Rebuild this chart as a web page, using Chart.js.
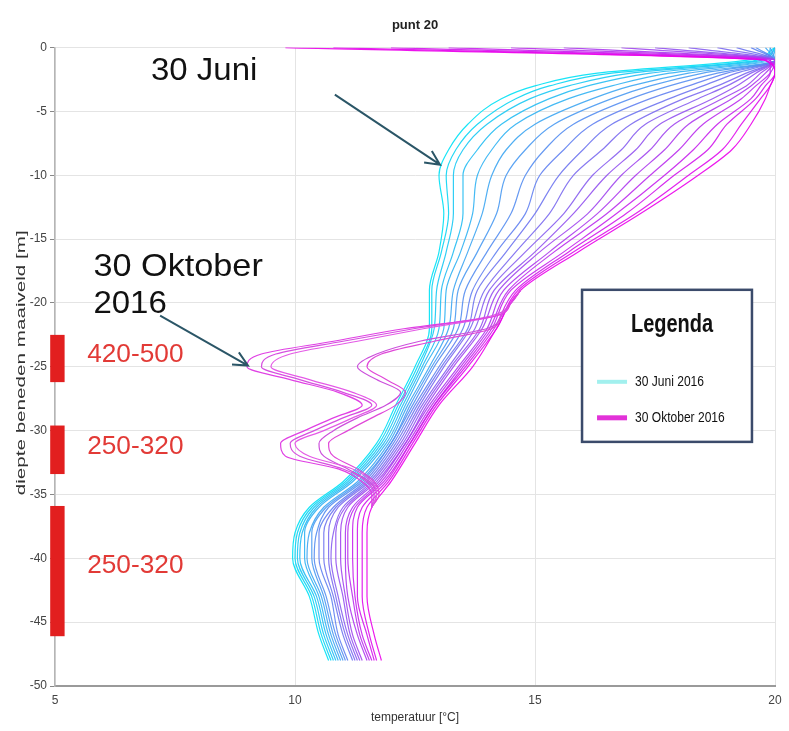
<!DOCTYPE html>
<html>
<head>
<meta charset="utf-8">
<script src="https://cdn.jsdelivr.net/npm/chart.js@4.4.1/dist/chart.umd.min.js"></script>
<style>
  html, body { margin: 0; padding: 0; background: #fff; }
</style>
</head>
<body>
<canvas id="myChart" width="789" height="731"></canvas>
<script>
// depth below ground level [m] for the main profiles
const depth = [0, -1, -2, -3, -4, -6, -8, -10, -13, -16, -19, -22, -25, -28, -31, -34, -36, -38, -40, -43, -46, -48];

// temperature profiles [°C], from 30 Juni 2016 (cyan) to 30 Oktober 2016 (magenta)
const t01 = [20, 19.4, 16.3, 15.0, 14.3, 13.6, 13.2, 13.0, 13.1, 13.0, 12.8, 12.8, 12.5, 12.1, 11.7, 11.0, 10.3, 10.0, 9.95, 10.3, 10.5, 10.7];
const t02 = [20, 19.6, 16.6, 15.3, 14.6, 13.8, 13.35, 13.15, 13.2, 13.05, 12.85, 12.85, 12.55, 12.15, 11.75, 11.05, 10.35, 10.05, 10.0, 10.35, 10.55, 10.75];
const t03 = [20, 19.7, 17.0, 15.7, 14.9, 14.0, 13.5, 13.3, 13.3, 13.15, 12.95, 12.9, 12.6, 12.2, 11.8, 11.1, 10.4, 10.1, 10.05, 10.4, 10.6, 10.8];
const t04 = [19.9, 19.8, 17.4, 16.1, 15.3, 14.3, 13.8, 13.5, 13.5, 13.3, 13.05, 13.0, 12.65, 12.25, 11.85, 11.15, 10.45, 10.15, 10.1, 10.45, 10.65, 10.85];
const t05 = [20, 19.9, 17.8, 16.6, 15.7, 14.6, 14.1, 13.8, 13.7, 13.45, 13.15, 13.1, 12.7, 12.3, 11.9, 11.2, 10.5, 10.2, 10.2, 10.5, 10.7, 10.9];
const t06 = [19.8, 20, 18.2, 17.0, 16.2, 15.0, 14.4, 14.1, 13.9, 13.6, 13.3, 13.2, 12.8, 12.35, 11.95, 11.3, 10.6, 10.3, 10.25, 10.55, 10.75, 10.95];
const t07 = [19.9, 20, 18.5, 17.4, 16.6, 15.4, 14.8, 14.4, 14.2, 13.8, 13.4, 13.3, 12.85, 12.4, 12.0, 11.35, 10.65, 10.35, 10.35, 10.6, 10.8, 11.0];
const t08 = [19.6, 20, 18.8, 17.8, 17.0, 15.8, 15.2, 14.8, 14.5, 14.0, 13.55, 13.4, 12.9, 12.45, 12.0, 11.4, 10.7, 10.45, 10.4, 10.65, 10.85, 11.05];
const t09 = [19.5, 20, 19.0, 18.2, 17.4, 16.2, 15.6, 15.1, 14.8, 14.2, 13.7, 13.5, 13.0, 12.5, 12.05, 11.45, 10.8, 10.5, 10.5, 10.75, 10.9, 11.1];
const t10 = [19.2, 20, 19.2, 18.5, 17.8, 16.6, 16.0, 15.5, 15.0, 14.4, 13.8, 13.6, 13.05, 12.55, 12.1, 11.5, 10.85, 10.6, 10.6, 10.8, 11.0, 11.2];
const t11 = [18.8, 20, 19.4, 18.8, 18.1, 17.0, 16.4, 15.8, 15.3, 14.6, 13.95, 13.65, 13.1, 12.6, 12.15, 11.55, 10.9, 10.7, 10.7, 10.85, 11.05, 11.25];
const t12 = [18.2, 20, 19.5, 19.0, 18.4, 17.3, 16.8, 16.2, 15.6, 14.8, 14.05, 13.75, 13.2, 12.65, 12.2, 11.6, 11.0, 10.8, 10.75, 10.9, 11.1, 11.3];
const t13 = [17.5, 20, 19.6, 19.2, 18.7, 17.6, 17.1, 16.5, 15.8, 15.0, 14.15, 13.85, 13.25, 12.7, 12.25, 11.65, 11.05, 10.85, 10.85, 11.0, 11.15, 11.35];
const t14 = [16.8, 20, 19.7, 19.4, 18.9, 17.9, 17.4, 16.8, 16.1, 15.1, 14.25, 13.9, 13.3, 12.75, 12.3, 11.7, 11.1, 10.95, 10.95, 11.05, 11.2, 11.4];
const t15 = [15.6, 20, 19.8, 19.5, 19.1, 18.2, 17.7, 17.1, 16.3, 15.3, 14.35, 14.0, 13.4, 12.8, 12.3, 11.75, 11.2, 11.05, 11.05, 11.1, 11.3, 11.5];
const t16 = [14.5, 20, 19.9, 19.6, 19.3, 18.5, 18.0, 17.4, 16.5, 15.4, 14.45, 14.05, 13.45, 12.85, 12.35, 11.8, 11.25, 11.1, 11.1, 11.2, 11.35, 11.55];
const t17 = [13.2, 19.9, 19.9, 19.7, 19.5, 18.8, 18.3, 17.7, 16.7, 15.6, 14.5, 14.1, 13.5, 12.9, 12.4, 11.85, 11.3, 11.2, 11.2, 11.25, 11.4, 11.6];
const t18 = [12.0, 19.9, 20, 19.8, 19.6, 19.0, 18.6, 17.9, 16.9, 15.7, 14.6, 14.15, 13.55, 12.9, 12.4, 11.9, 11.4, 11.3, 11.3, 11.3, 11.5, 11.65];
const t19 = [10.8, 19.8, 20, 19.9, 19.7, 19.3, 18.9, 18.2, 17.1, 15.8, 14.65, 14.2, 13.6, 12.95, 12.45, 11.95, 11.5, 11.4, 11.4, 11.4, 11.55, 11.7];
const t20 = [9.8, 19.8, 20, 19.9, 19.8, 19.5, 19.1, 18.4, 17.2, 15.9, 14.7, 14.2, 13.7, 13.0, 12.5, 12.0, 11.6, 11.5, 11.5, 11.5, 11.65, 11.8];
const profiles = [t01, t02, t03, t04, t05, t06, t07, t08, t09, t10, t11, t12, t13, t14, t15, t16, t17, t18, t19, t20];

// October profiles that swing out between -19 and -36 m
const depthOct = [-19, -20, -21, -22, -23, -24, -25, -26, -27, -28, -29, -30, -31, -32, -33, -34, -35, -36];
const oct1 = [14.7, 14.5, 14.2, 12.3, 10.8, 9.3, 9.0, 9.9, 10.9, 11.4, 10.8, 10.2, 9.7, 9.8, 10.9, 11.4, 11.6, 11.6];
const oct2 = [14.7, 14.5, 14.1, 12.5, 11.0, 9.6, 9.3, 10.1, 11.0, 11.6, 11.0, 10.4, 9.9, 10.1, 11.0, 11.5, 11.65, 11.6];
const oct3 = [14.7, 14.5, 14.2, 12.7, 11.3, 9.9, 9.5, 10.3, 11.2, 11.7, 11.2, 10.6, 10.0, 10.3, 11.2, 11.6, 11.7, 11.6];
const oct4 = [14.7, 14.5, 14.3, 14.0, 12.6, 11.7, 11.3, 11.7, 12.2, 11.9, 11.3, 10.8, 10.5, 10.6, 11.1, 11.55, 11.7, 11.6];
const oct5 = [14.7, 14.5, 14.3, 14.1, 12.9, 11.8, 11.5, 11.9, 12.3, 12.1, 11.6, 11.1, 10.7, 10.8, 11.3, 11.65, 11.75, 11.6];
const octProfiles = [oct1, oct2, oct3, oct4, oct5];

// well screens (red bars) and their labels
const screenTop = [-22.5, -29.6, -35.9];
const screenBottom = [-26.2, -33.4, -46.1];
const screenLabel = ['420-500', '250-320', '250-320'];

const legendLabels = ['30 Juni 2016', '30 Oktober 2016'];

const octColors = ['#e040e4', '#d64fe0', '#e45ae6', '#cc50dc', '#e048d8'];

function mix(f) {
    return 'rgba(' + Math.round(235 * f) + ',' + Math.round(225 * (1 - f)) + ',' + Math.round(245 - 10 * f) + ',0.9)';
}

var datasets = profiles.map(function (temps, k) {
    return {
        data: temps.map(function (t, i) { return { x: t, y: depth[i] }; }),
        borderColor: mix(k / (profiles.length - 1)),
        borderWidth: 1.2,
        pointRadius: 0,
        showLine: true,
        cubicInterpolationMode: 'monotone',
        order: 40 - k,
    };
});
octProfiles.forEach(function (temps, k) {
    datasets.push({
        data: temps.map(function (t, i) { return { x: t, y: depthOct[i] }; }),
        borderColor: octColors[k],
        borderWidth: 1.2,
        pointRadius: 0,
        showLine: true,
        cubicInterpolationMode: 'monotone',
        order: 1,
    });
});

function arrow(ctx, x1, y1, x2, y2) {
    var a = Math.atan2(y2 - y1, x2 - x1);
    ctx.beginPath();
    ctx.moveTo(x1, y1);
    ctx.lineTo(x2, y2);
    ctx.moveTo(x2 - 16 * Math.cos(a - 0.45), y2 - 16 * Math.sin(a - 0.45));
    ctx.lineTo(x2, y2);
    ctx.lineTo(x2 - 16 * Math.cos(a + 0.45), y2 - 16 * Math.sin(a + 0.45));
    ctx.stroke();
}

// text squeezed or stretched along its own direction
function squeezed(ctx, text, px, py, sx, align) {
    ctx.save();
    ctx.translate(px, py);
    ctx.scale(sx, 1);
    ctx.textAlign = align;
    ctx.fillText(text, 0, 0);
    ctx.restore();
}

// red bars, labels, arrows and the legend box
const notes = {
    id: 'notes',
    afterDraw(chart) {
        const ctx = chart.ctx;
        const x = chart.scales.x, y = chart.scales.y;
        ctx.save();
        ctx.textBaseline = 'middle';
        // y axis title
        ctx.save();
        ctx.translate(22, (chart.chartArea.top + chart.chartArea.bottom) / 2 - 4);
        ctx.rotate(-Math.PI / 2);
        ctx.fillStyle = '#333';
        ctx.font = '12px "Liberation Sans", Arial, sans-serif';
        squeezed(ctx, 'diepte beneden maaiveld [m]', 0, 0, 1.72, 'center');
        ctx.restore();
        // screens
        var labelDepth = [-24.1, -31.3, -40.6];
        screenTop.forEach(function (top, i) {
            var x1 = x.getPixelForValue(4.9), x2 = x.getPixelForValue(5.2);
            var y1 = y.getPixelForValue(top), y2 = y.getPixelForValue(screenBottom[i]);
            ctx.fillStyle = '#e21f1f';
            ctx.fillRect(x1, y1, x2 - x1, y2 - y1);
            ctx.fillStyle = '#e23a36';
            ctx.font = '25px "Liberation Sans", Arial, sans-serif';
            squeezed(ctx, screenLabel[i], x.getPixelForValue(5.67), y.getPixelForValue(labelDepth[i]), 1.05, 'left');
        });
        // date notes
        ctx.fillStyle = '#111';
        ctx.font = '32px "Liberation Sans", Arial, sans-serif';
        squeezed(ctx, '30 Juni', x.getPixelForValue(7.0), y.getPixelForValue(-1.88), 1.03, 'left');
        squeezed(ctx, '30 Oktober', x.getPixelForValue(5.8), y.getPixelForValue(-17.2), 1.07, 'left');
        squeezed(ctx, '2016', x.getPixelForValue(5.8), y.getPixelForValue(-20.1), 1.03, 'left');
        ctx.strokeStyle = '#2b5667';
        ctx.lineWidth = 2;
        arrow(ctx, x.getPixelForValue(10.83), y.getPixelForValue(-3.68), x.getPixelForValue(13.02), y.getPixelForValue(-9.17));
        arrow(ctx, x.getPixelForValue(7.19), y.getPixelForValue(-21.0), x.getPixelForValue(9.02), y.getPixelForValue(-24.9));
        // legend box
        var lx1 = x.getPixelForValue(15.98), lx2 = x.getPixelForValue(19.52);
        var ly1 = y.getPixelForValue(-18.97), ly2 = y.getPixelForValue(-30.88);
        ctx.fillStyle = '#fff';
        ctx.fillRect(lx1, ly1, lx2 - lx1, ly2 - ly1);
        ctx.strokeStyle = '#3b4b6b';
        ctx.lineWidth = 2.5;
        ctx.strokeRect(lx1, ly1, lx2 - lx1, ly2 - ly1);
        ctx.fillStyle = '#111';
        ctx.font = 'bold 25px "Liberation Sans", Arial, sans-serif';
        squeezed(ctx, 'Legenda', lx1 + 90, ly1 + 35, 0.8, 'center');
        ctx.font = '14px "Liberation Sans", Arial, sans-serif';
        ctx.lineWidth = 4;
        ctx.strokeStyle = '#a2f0ee';
        ctx.beginPath(); ctx.moveTo(lx1 + 15, ly1 + 92); ctx.lineTo(lx1 + 45, ly1 + 92); ctx.stroke();
        squeezed(ctx, legendLabels[0], lx1 + 53, ly1 + 92, 0.86, 'left');
        ctx.lineWidth = 5;
        ctx.strokeStyle = '#e232d8';
        ctx.beginPath(); ctx.moveTo(lx1 + 15, ly1 + 128); ctx.lineTo(lx1 + 45, ly1 + 128); ctx.stroke();
        squeezed(ctx, legendLabels[1], lx1 + 53, ly1 + 128, 0.86, 'left');
        ctx.restore();
    }
};

var ctx = document.getElementById('myChart');
var chart = new Chart(ctx, {
    type: 'scatter',
    data: { datasets: datasets },
    options: {
        indexAxis: 'y',
        responsive: false,
        animation: false,
        devicePixelRatio: 1,
        layout: { padding: { left: 0, right: 14, top: 0, bottom: 0 } },
        plugins: {
            legend: { display: false },
            tooltip: { enabled: false },
            title: {
                display: true,
                text: 'punt 20',
                fullSize: false,
                color: '#222',
                font: { size: 13, weight: 'bold', family: '"Liberation Sans Narrow", "Liberation Sans", Arial, sans-serif' },
                padding: { top: 18, bottom: 14 },
            },
        },
        scales: {
            x: {
                type: 'linear',
                position: 'bottom',
                min: 5,
                max: 20,
                ticks: { stepSize: 5, color: '#444', padding: 7, font: { size: 12, family: '"Liberation Sans Narrow", "Liberation Sans", Arial, sans-serif' } },
                grid: { color: '#e4e4e4', drawTicks: false },
                border: { color: '#9a9a9a', width: 2 },
                title: { display: true, text: 'temperatuur [°C]', color: '#333', padding: { top: 0, bottom: 6 }, font: { size: 12, family: '"Liberation Sans Narrow", "Liberation Sans", Arial, sans-serif' } },
                afterFit: function (s) { s.height = 45; },
            },
            y: {
                type: 'linear',
                position: 'left',
                min: -50,
                max: 0,
                ticks: { stepSize: 5, color: '#444', padding: 3, font: { size: 12, family: '"Liberation Sans Narrow", "Liberation Sans", Arial, sans-serif' } },
                grid: { color: '#e4e4e4', tickLength: 5, tickColor: '#888' },
                border: { color: '#b5b5b5', width: 1.5 },
                afterFit: function (s) { s.width = 55; },
            },
        },
    },
    plugins: [notes],
});
</script>
</body>
</html>
